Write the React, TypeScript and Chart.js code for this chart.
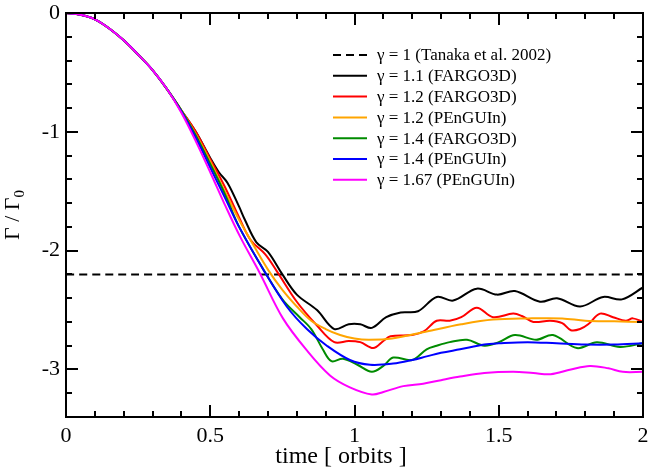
import React, { useEffect, useRef } from "react";
import { Chart, registerables } from "chart.js";

Chart.register(...registerables);

// ---- data ----
const commonX = [0, 0.05, 0.1, 0.15, 0.2, 0.25, 0.3, 0.35];
const commonY = [0, -0.015, -0.053, -0.13, -0.23, -0.35, -0.48, -0.64];

const tanakaX = [0, 2];
const tanakaY = [-2.2, -2.2];

const g11X = [0.4, 0.45, 0.5, 0.53, 0.56, 0.6, 0.62, 0.66, 0.7, 0.75, 0.8, 0.87, 0.93, 0.98, 1.02, 1.06, 1.11, 1.16, 1.22, 1.285, 1.342, 1.424, 1.494, 1.556, 1.643, 1.702, 1.782, 1.862, 1.927, 2.0];
const g11Y = [-0.82, -1.0, -1.22, -1.34, -1.43, -1.63, -1.74, -1.93, -2.01, -2.2, -2.37, -2.5, -2.66, -2.62, -2.62, -2.65, -2.56, -2.52, -2.51, -2.39, -2.42, -2.32, -2.37, -2.34, -2.43, -2.4, -2.47, -2.39, -2.41, -2.31];

const g12FX = [0.4, 0.45, 0.5, 0.55, 0.6, 0.64, 0.69, 0.73, 0.8, 0.87, 0.93, 0.98, 1.02, 1.065, 1.1, 1.125, 1.2, 1.24, 1.285, 1.33, 1.37, 1.424, 1.48, 1.55, 1.58, 1.62, 1.678, 1.72, 1.75, 1.782, 1.81, 1.851, 1.896, 1.94, 1.965, 2.0];
const g12FY = [-0.82, -1.0, -1.23, -1.46, -1.72, -1.91, -2.03, -2.17, -2.43, -2.63, -2.77, -2.76, -2.77, -2.82, -2.76, -2.72, -2.71, -2.68, -2.59, -2.59, -2.56, -2.48, -2.56, -2.53, -2.55, -2.6, -2.59, -2.61, -2.67, -2.66, -2.62, -2.53, -2.56, -2.59, -2.57, -2.6];

const g12PX = [0.4, 0.45, 0.5, 0.55, 0.6, 0.63, 0.7, 0.75, 0.8, 0.85, 0.9, 0.95, 1.0, 1.05, 1.13, 1.25, 1.37, 1.48, 1.6, 1.72, 1.8, 1.9, 2.0];
const g12PY = [-0.82, -1.02, -1.25, -1.5, -1.74, -1.87, -2.16, -2.33, -2.47, -2.59, -2.66, -2.71, -2.74, -2.75, -2.74, -2.68, -2.62, -2.58, -2.57, -2.57, -2.59, -2.595, -2.6];

const g14FX = [0.4, 0.45, 0.5, 0.55, 0.6, 0.67, 0.75, 0.81, 0.85, 0.89, 0.92, 0.96, 1.01, 1.06, 1.1, 1.134, 1.2, 1.25, 1.285, 1.33, 1.39, 1.45, 1.5, 1.556, 1.63, 1.688, 1.771, 1.84, 1.92, 2.0];
const g14FY = [-0.82, -1.03, -1.27, -1.52, -1.8, -2.1, -2.41, -2.56, -2.66, -2.83, -2.93, -2.91, -2.96, -3.02, -2.97, -2.9, -2.92, -2.83, -2.8, -2.77, -2.75, -2.8, -2.77, -2.71, -2.75, -2.71, -2.82, -2.77, -2.81, -2.78];

const g14PX = [0.4, 0.45, 0.5, 0.55, 0.6, 0.684, 0.765, 0.835, 0.904, 0.984, 1.054, 1.134, 1.2, 1.25, 1.3, 1.366, 1.45, 1.5, 1.6, 1.7, 1.8, 1.9, 2.0];
const g14PY = [-0.83, -1.05, -1.3, -1.55, -1.8, -2.16, -2.47, -2.66, -2.8, -2.92, -2.96, -2.95, -2.92, -2.89, -2.86, -2.83, -2.79, -2.78, -2.77, -2.78, -2.79, -2.79, -2.78];

const g167X = [0.4, 0.45, 0.5, 0.55, 0.603, 0.672, 0.752, 0.835, 0.915, 0.984, 1.06, 1.1, 1.169, 1.238, 1.3, 1.366, 1.45, 1.55, 1.62, 1.68, 1.75, 1.816, 1.88, 1.93, 2.0];
const g167Y = [-0.84, -1.08, -1.34, -1.61, -1.88, -2.19, -2.57, -2.84, -3.05, -3.15, -3.21, -3.19, -3.14, -3.12, -3.09, -3.06, -3.03, -3.02, -3.03, -3.04, -3.0, -2.97, -2.99, -3.02, -3.02];

const seriesLabels = [
  "γ = 1 (Tanaka et al. 2002)",
  "γ = 1.1 (FARGO3D)",
  "γ = 1.2 (FARGO3D)",
  "γ = 1.2 (PEnGUIn)",
  "γ = 1.4 (FARGO3D)",
  "γ = 1.4 (PEnGUIn)",
  "γ = 1.67 (PEnGUIn)",
];
const seriesColors = ["#000000", "#000000", "#ff0000", "#ffa500", "#008b00", "#0000ff", "#ff00ff"];

const xMajorTicks = [0, 0.5, 1, 1.5, 2];
const xTickLabels = ["0", "0.5", "1", "1.5", "2"];
const yMajorTicks = [0, -1, -2, -3];
const yTickLabels = ["0", "-1", "-2", "-3"];
const xMinorStep = 0.1;
const yMinorStep = 0.2;
const xTitle = "time [ orbits ]";
const yTitleMain = "Γ / Γ";
const yTitleSub = "0";

const FONT = "'Liberation Serif', 'Times New Roman', serif";

function pts(xs: number[], ys: number[], withCommon = true) {
  const X = withCommon ? commonX.concat(xs) : xs;
  const Y = withCommon ? commonY.concat(ys) : ys;
  return X.map((x, i) => ({ x, y: Y[i] }));
}

const decorPlugin = {
  id: "decor",
  afterDatasetsDraw(chart: any) {
    const { ctx, chartArea } = chart;
    const { left, right, top, bottom } = chartArea;
    const xs = chart.scales.x;
    const ys = chart.scales.y;
    ctx.save();
    ctx.strokeStyle = "#000";
    ctx.lineWidth = 2;
    ctx.strokeRect(left, top, right - left, bottom - top);
    ctx.lineWidth = 2;
    ctx.beginPath();
    const xMin = xs.min, xMax = xs.max;
    for (let v = xMin; v <= xMax + 1e-9; v += xMinorStep) {
      const vv = Math.round(v * 1000) / 1000;
      const major = xMajorTicks.some((m) => Math.abs(m - vv) < 1e-6);
      const len = major ? 12 : 6;
      const p = Math.round(xs.getPixelForValue(vv));
      ctx.moveTo(p, bottom);
      ctx.lineTo(p, bottom - len);
      ctx.moveTo(p, top);
      ctx.lineTo(p, top + len);
    }
    for (let v = 0; v >= ys.min - 1e-9; v -= yMinorStep) {
      const vv = Math.round(v * 1000) / 1000;
      const major = yMajorTicks.some((m) => Math.abs(m - vv) < 1e-6);
      const len = major ? 12 : 6;
      const p = Math.round(ys.getPixelForValue(vv));
      ctx.moveTo(left, p);
      ctx.lineTo(left + len, p);
      ctx.moveTo(right, p);
      ctx.lineTo(right - len, p);
    }
    ctx.stroke();

    // legend
    const lx = 333, lineLen = 34, tx = 377;
    let ly = 55;
    const step = 20.8;
    ctx.font = `17px ${FONT}`;
    ctx.textBaseline = "middle";
    ctx.textAlign = "left";
    chart.data.datasets.forEach((ds: any) => {
      ctx.beginPath();
      ctx.strokeStyle = ds.borderColor;
      ctx.lineWidth = 2;
      ctx.setLineDash(ds.borderDash || []);
      ctx.moveTo(lx, ly);
      ctx.lineTo(lx + lineLen, ly);
      ctx.stroke();
      ctx.setLineDash([]);
      ctx.fillStyle = "#000";
      ctx.fillText(ds.label, tx, ly + 1);
      ly += step;
    });

    // axis titles
    ctx.fillStyle = "#000";
    ctx.font = `24px ${FONT}`;
    ctx.textAlign = "center";
    ctx.textBaseline = "alphabetic";
    ctx.fillText(xTitle, 341, 463);

    ctx.save();
    ctx.translate(19, (top + bottom) / 2);
    ctx.rotate(-Math.PI / 2);
    ctx.font = `22px ${FONT}`;
    const wMain = ctx.measureText(yTitleMain).width;
    ctx.font = `15px ${FONT}`;
    const wSub = ctx.measureText(yTitleSub).width;
    const start = -(wMain + wSub) / 2;
    ctx.textAlign = "left";
    ctx.font = `22px ${FONT}`;
    ctx.fillText(yTitleMain, start, 0);
    ctx.font = `15px ${FONT}`;
    ctx.fillText(yTitleSub, start + wMain, 5);
    ctx.restore();
    ctx.restore();
  },
};

export default function App() {
  const ref = useRef<HTMLCanvasElement | null>(null);
  useEffect(() => {
    document.body.style.margin = "0";
    const canvas = ref.current!;
    const seriesData = [
      pts(tanakaX, tanakaY, false),
      pts(g11X, g11Y),
      pts(g12FX, g12FY),
      pts(g12PX, g12PY),
      pts(g14FX, g14FY),
      pts(g14PX, g14PY),
      pts(g167X, g167Y),
    ];
    const datasets = seriesData.map((d, i) => ({
      label: seriesLabels[i],
      data: d,
      borderColor: seriesColors[i],
      backgroundColor: seriesColors[i],
      borderWidth: 2,
      borderDash: i === 0 ? [8, 5] : undefined,
      pointRadius: 0,
      tension: 0.35,
      fill: false,
      order: seriesData.length - 1 - i,
    }));
    const chart = new Chart(canvas, {
      type: "line",
      data: { datasets },
      options: {
        animation: false,
        responsive: false,
        devicePixelRatio: 1,
        layout: { padding: { top: 13, right: 6, left: 0, bottom: 0 } },
        plugins: { legend: { display: false }, tooltip: { enabled: false } },
        scales: {
          x: {
            type: "linear",
            min: 0,
            max: 2,
            grid: { display: false, drawTicks: false },
            border: { display: false },
            afterBuildTicks: (s: any) => {
              s.ticks = xMajorTicks.map((v) => ({ value: v }));
            },
            afterFit: (s: any) => {
              s.height = 53;
              s.paddingLeft = 0;
              s.paddingRight = 0;
            },
            ticks: {
              padding: 6,
              color: "#000",
              font: { family: FONT, size: 22 },
              maxRotation: 0,
              autoSkip: false,
              callback: (v: any) => {
                const i = xMajorTicks.indexOf(Number(v));
                return i >= 0 ? xTickLabels[i] : "";
              },
            },
          },
          y: {
            type: "linear",
            min: -3.4,
            max: 0,
            grid: { display: false, drawTicks: false },
            border: { display: false },
            afterBuildTicks: (s: any) => {
              s.ticks = yMajorTicks.map((v) => ({ value: v }));
            },
            afterFit: (s: any) => {
              s.width = 66;
              s.paddingTop = 0;
              s.paddingBottom = 0;
            },
            ticks: {
              padding: 6,
              color: "#000",
              font: { family: FONT, size: 22 },
              autoSkip: false,
              callback: (v: any) => {
                const i = yMajorTicks.indexOf(Number(v));
                return i >= 0 ? yTickLabels[i] : "";
              },
            },
          },
        },
      },
      plugins: [decorPlugin],
    });
    return () => chart.destroy();
  }, []);
  return (
    <div style={{ width: 649, height: 470 }}>
      <canvas ref={ref} width={649} height={470} />
    </div>
  );
}
